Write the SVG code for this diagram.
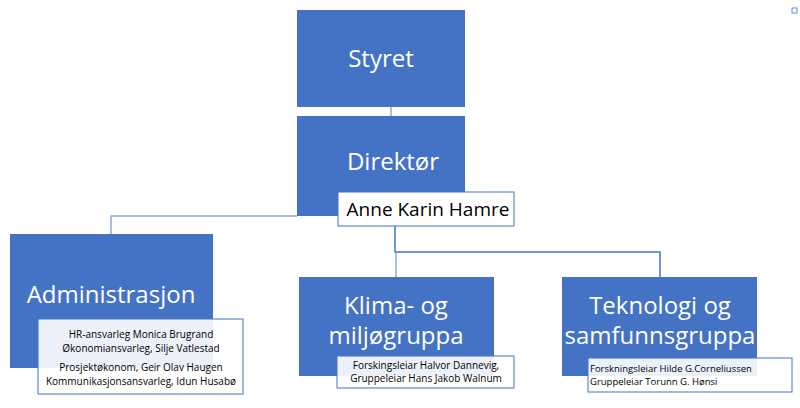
<svg xmlns="http://www.w3.org/2000/svg" width="800" height="408" viewBox="0 0 800 408">
<style>
.b{fill:#4472c4}
.s{fill:#fff;stroke:#4472c4;stroke-width:1;fill-opacity:0.9}
.t{font-family:"Open Sans","Liberation Sans",sans-serif;fill:#fff;text-anchor:middle}
.d{font-family:"Open Sans","Liberation Sans",sans-serif;fill:#000;text-anchor:middle;font-size:10px}
.c{fill:none;stroke:#8faadc;stroke-width:1.5}
</style>
<rect width="800" height="408" fill="#fff"/>
<g id="connectors">
<path class="c" d="M391 107V116"/>
<path class="c" d="M297 216H111V234" stroke="#4472c4"/>
<path class="c" d="M395 216V252H660V277" style="stroke:#4472c4"/>
<path class="c" d="M396 252V277"/>
</g>
<g id="styret"><rect class="b" x="297" y="10" width="168" height="97"/><text class="t" x="381" y="67" font-size="24">Styret</text></g>
<g id="direktor"><rect class="b" x="297" y="116" width="168" height="100"/><text class="t" x="393" y="170" font-size="24">Direktør</text>
<rect x="338" y="192" width="176" height="34" fill="#fff" stroke="#4472c4"/><text class="d" x="428" y="216" font-size="19" style="font-size:19px">Anne Karin Hamre</text></g>
<g id="admin"><rect class="b" x="10" y="234" width="203" height="134"/><text class="t" x="111" y="303" font-size="24">Administrasjon</text>
<rect class="s" x="38" y="319" width="205" height="75"/>
<text class="d" x="141" y="338">HR-ansvarleg Monica Brugrand</text>
<text class="d" x="141" y="352">Økonomiansvarleg, Silje Vatlestad</text>
<text class="d" x="141" y="371">Prosjektøkonom, Geir Olav Haugen</text>
<text class="d" x="141" y="385">Kommunikasjonsansvarleg, Idun Husabø</text></g>
<g id="klima"><rect class="b" x="299" y="277" width="195" height="99"/><text class="t" x="396" y="314" font-size="24">Klima- og</text><text class="t" x="396" y="344" font-size="24">miljøgruppa</text>
<rect class="s" x="337" y="356" width="177" height="32"/>
<text class="d" x="426" y="369">Forskingsleiar Halvor Dannevig,</text>
<text class="d" x="426" y="382">Gruppeleiar Hans Jakob Walnum</text></g>
<g id="teknologi"><rect class="b" x="562" y="277" width="195" height="99"/><text class="t" x="660" y="314" font-size="24">Teknologi og</text><text class="t" x="660" y="344" font-size="24">samfunnsgruppa</text>
<rect class="s" x="588" y="358" width="204" height="34"/>
<text class="d" x="590" y="372" style="text-anchor:start;font-size:9.5px">Forskningsleiar  Hilde G.Corneliussen</text>
<text class="d" x="590" y="385" style="text-anchor:start;font-size:9.5px">Gruppeleiar Torunn G. Hønsi</text></g>
<rect x="792" y="8" width="5" height="5" fill="none" stroke="#4472c4" stroke-width="0.8"/>
</svg>
